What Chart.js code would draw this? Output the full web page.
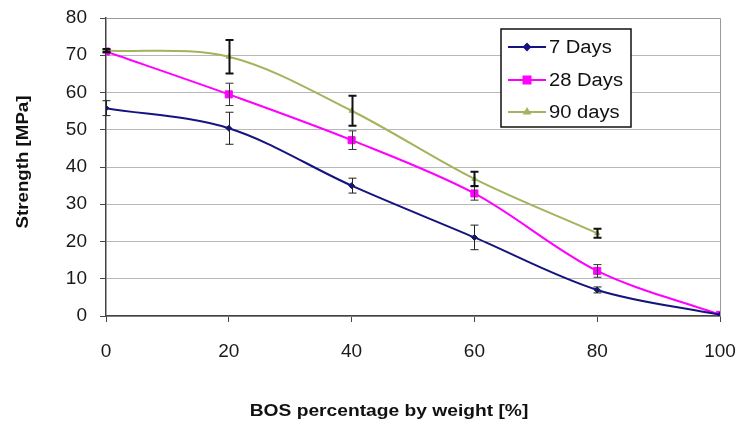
<!DOCTYPE html>
<html>
<head>
<meta charset="utf-8">
<script src="https://cdn.jsdelivr.net/npm/chart.js@4.4.1/dist/chart.umd.min.js"></script>
<style>
  html, body { margin: 0; padding: 0; background: #fff; }
  #wrap { width: 737px; height: 426px; }
</style>
</head>
<body>
<div id="wrap"><canvas id="chart" width="737" height="426"></canvas></div>
<script>
// BOS percentage (x) and strength values per curing age
const pct = [0, 20, 40, 60, 80, 100]
const days7 = [55.8, 50.4, 35.0, 21.1, 7.0, 0.3]
const days28 = [71.0, 59.5, 47.2, 32.9, 12.1, 0.3]
const days90 = [71.3, 69.6, 55.1, 36.8, 22.2]
// error bar half-heights
const err7 = [2.0, 4.3, 2.0, 3.3, 0.8, 0]
const err28 = [0.4, 3.0, 2.5, 1.8, 1.7, 0]
const err90 = [0.4, 4.5, 4.0, 1.9, 1.2]
const yTicks = [0, 10, 20, 30, 40, 50, 60, 70, 80]
const xTicks = [0, 20, 40, 60, 80, 100]

const font = "'Liberation Sans', Arial, sans-serif"

function pts(vals) {
  return vals.map((v, i) => ({ x: pct[i], y: v }))
}

// text in the source picture is a little stretched sideways
function wideText(ctx, txt, x, y, sx) {
  ctx.save()
  ctx.translate(x, y)
  ctx.scale(sx, 1)
  ctx.fillText(txt, 0, 0)
  ctx.restore()
}

const errorBars = {
  id: 'errorBars',
  afterDatasetsDraw(chart) {
    let ctx = chart.ctx
    let xs = chart.scales.x, ys = chart.scales.y
    chart.data.datasets.forEach(ds => {
      ctx.save()
      ctx.strokeStyle = ds.errColor
      ctx.lineWidth = ds.errWidth
      ds.err.forEach((e, i) => {
        if (!e) return
        let v = ds.data[i].y
        let x = Math.round(xs.getPixelForValue(ds.data[i].x)) + 0.5
        let y1 = ys.getPixelForValue(v + e)
        let y2 = ys.getPixelForValue(v - e)
        ctx.beginPath()
        ctx.moveTo(x, y1); ctx.lineTo(x, y2)
        ctx.moveTo(x - 4, y1); ctx.lineTo(x + 4, y1)
        ctx.moveTo(x - 4, y2); ctx.lineTo(x + 4, y2)
        ctx.stroke()
      })
      ctx.restore()
    })
  }
}

const frame = {
  id: 'frame',
  beforeDatasetsDraw(chart) {
    let { ctx, chartArea: a } = chart
    ctx.save()
    ctx.strokeStyle = '#9a9a9a'
    ctx.lineWidth = 1
    ctx.beginPath()
    ctx.moveTo(a.left, a.top + 0.5); ctx.lineTo(a.right + 0.5, a.top + 0.5)
    ctx.lineTo(a.right + 0.5, a.bottom)
    ctx.stroke()
    ctx.restore()
  },
  afterDraw(chart) {
    let ctx = chart.ctx
    ctx.save()
    ctx.fillStyle = '#111'
    ctx.font = 'bold 17px ' + font
    ctx.textAlign = 'center'
    ctx.textBaseline = 'middle'
    wideText(ctx, 'BOS percentage by weight [%]', 389, 411, 1.13)
    ctx.translate(23, 162)
    ctx.rotate(-Math.PI / 2)
    wideText(ctx, 'Strength [MPa]', 0, 0, 1.1)
    ctx.restore()

    // legend box
    ctx.save()
    ctx.fillStyle = '#fff'
    ctx.strokeStyle = '#111'
    ctx.lineWidth = 1.5
    ctx.fillRect(501, 29, 130, 98)
    ctx.strokeRect(501, 29, 130, 98)
    let rows = [47, 80, 112]
    chart.data.datasets.forEach((ds, i) => {
      let y = rows[i]
      ctx.strokeStyle = ds.borderColor
      ctx.lineWidth = 2
      ctx.beginPath(); ctx.moveTo(508, y); ctx.lineTo(546, y); ctx.stroke()
      Chart.helpers.drawPoint(ctx, {
        pointStyle: ds.pointStyle, radius: ds.pointRadius, borderWidth: 1, rotation: 0
      }, 527, y)
      ctx.fillStyle = ds.borderColor
      ctx.fill()
      ctx.fillStyle = '#111'
      ctx.font = '18px ' + font
      ctx.textAlign = 'left'
      ctx.textBaseline = 'middle'
      wideText(ctx, ds.label, 549, y + 1, 1.12)
    })
    ctx.restore()
  }
}

const config = {
  type: 'line',
  data: {
    datasets: [
      { label: '7 Days', data: pts(days7), err: err7, errColor: '#222', errWidth: 1,
        borderColor: '#14147f', backgroundColor: '#14147f', pointStyle: 'rectRot', pointRadius: 3 },
      { label: '28 Days', data: pts(days28), err: err28, errColor: '#333', errWidth: 1,
        borderColor: '#ff00ff', backgroundColor: '#ff00ff', pointStyle: 'rect', pointRadius: 5 },
      { label: '90 days', data: pts(days90), err: err90, errColor: '#111', errWidth: 2,
        borderColor: '#a2b45c', backgroundColor: '#a2b45c', pointStyle: 'triangle', pointRadius: 3 }
    ]
  },
  options: {
    responsive: false,
    animation: false,
    layout: { autoPadding: false, padding: { top: 18, right: 17, left: 0, bottom: 0 } },
    elements: {
      line: { tension: 0.33, borderWidth: 2, fill: false },
      point: { borderWidth: 1, hoverRadius: 4 }
    },
    plugins: { legend: { display: false }, tooltip: { enabled: false } },
    scales: {
      x: {
        type: 'linear', min: 0, max: 100,
        afterBuildTicks: s => { s.ticks = xTicks.map(v => ({ value: v })) },
        afterFit: s => { s.height = 110; s.paddingLeft = 0; s.paddingRight = 0 },
        grid: { drawOnChartArea: false, tickLength: 6, tickColor: '#444' },
        border: { color: '#444', width: 1.5 },
        ticks: { padding: 18, color: '#1a1a1a', font: { family: font, size: 19 } }
      },
      y: {
        min: 0, max: 80,
        afterBuildTicks: s => { s.ticks = yTicks.map(v => ({ value: v })) },
        afterFit: s => { s.width = 106; s.paddingTop = 0; s.paddingBottom = 0 },
        grid: { color: '#b8b8b8', tickLength: 6, tickColor: '#444' },
        border: { color: '#444', width: 1.5 },
        ticks: { padding: 13, color: '#1a1a1a', font: { family: font, size: 19 } }
      }
    }
  },
  plugins: [frame, errorBars]
}

new Chart(document.getElementById('chart'), config)
</script>
</body>
</html>
